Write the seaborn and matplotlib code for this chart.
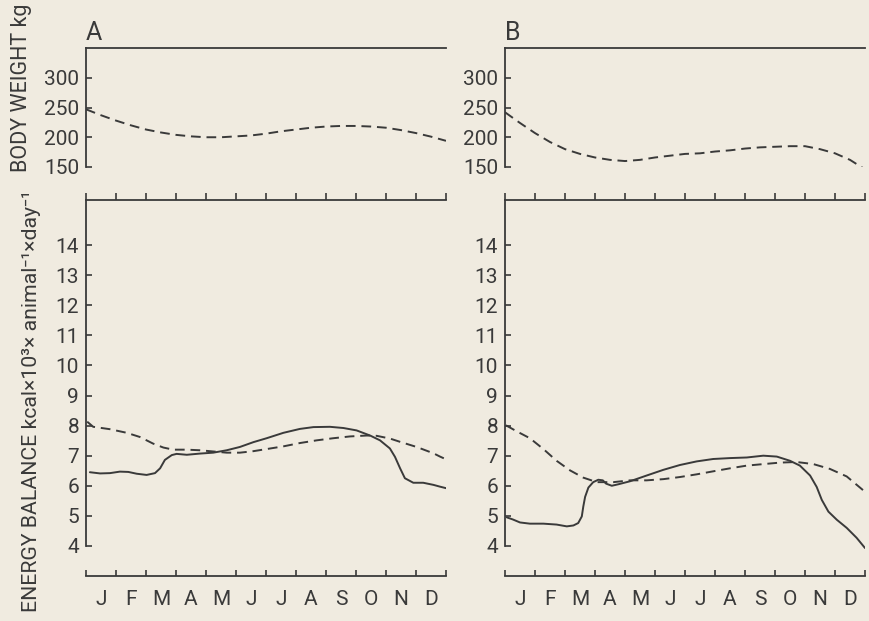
import matplotlib
matplotlib.use('Agg')
import matplotlib.pyplot as plt
import seaborn as sns
from matplotlib.ticker import FixedLocator, FixedFormatter, NullFormatter

# Month letters along the bottom axis
months = ['J', 'F', 'M', 'A', 'M', 'J', 'J', 'A', 'S', 'O', 'N', 'D']

# Body weight (kg), dashed curves, x in months from 1 January
bw_month = [0, 0.5, 1, 1.5, 2, 2.5, 3, 3.5, 4, 4.5, 5, 5.5, 6, 6.5, 7, 7.5,
            8, 8.5, 9, 9.5, 10, 10.5, 11, 11.5, 12]
bw_a = [247, 237, 228, 220, 213, 208, 204, 201.5, 200, 200, 201.5, 203, 206,
        210, 213, 216, 218, 219, 219, 218, 216, 212, 207, 201, 194]
bw_b = [242, 224, 207, 192, 180, 172, 166, 162, 160, 162, 166, 169, 172,
        173, 176, 178, 181, 183, 184, 185, 185, 180, 173, 162, 146]

# Energy balance, panel A
ea_solid_m = [0.13, 0.47, 0.8, 1.13, 1.41, 1.69, 2.02, 2.3, 2.47, 2.63, 2.86,
              3.02, 3.36, 3.8, 4.24, 4.69, 5.13, 5.58, 6.02, 6.58, 7.13, 7.58,
              8.13, 8.58, 9.02, 9.47, 9.8, 10.13, 10.3, 10.47, 10.63, 10.91,
              11.24, 11.58, 11.8, 12.0]
ea_solid = [6.45, 6.41, 6.42, 6.47, 6.46, 6.4, 6.36, 6.42, 6.58, 6.86, 7.02,
            7.06, 7.03, 7.07, 7.1, 7.18, 7.29, 7.45, 7.58, 7.76, 7.89, 7.95,
            7.96, 7.92, 7.84, 7.67, 7.51, 7.24, 6.96, 6.58, 6.25, 6.1,
            6.1, 6.03, 5.97, 5.92]
ea_dash_m = [0.04, 0.24, 0.8, 1.36, 1.8, 2.24, 2.58, 2.91, 3.36, 3.8, 4.24,
             4.69, 5.13, 5.58, 6.02, 6.58, 7.13, 7.69, 8.24, 8.8, 9.36, 9.69,
             10.13, 10.47, 11.02, 11.58, 11.8, 12.0]
ea_dash = [8.13, 7.96, 7.88, 7.76, 7.62, 7.4, 7.27, 7.2, 7.2, 7.18, 7.14,
           7.1, 7.1, 7.15, 7.22, 7.31, 7.42, 7.51, 7.58, 7.64, 7.67, 7.66,
           7.57, 7.46, 7.29, 7.08, 6.97, 6.88]

# Energy balance, panel B
eb_solid_m = [0.06, 0.26, 0.5, 0.83, 1.28, 1.72, 2.06, 2.28, 2.44, 2.56, 2.61,
              2.67, 2.78, 2.94, 3.11, 3.26, 3.37, 3.56, 3.78, 4.17, 4.72, 5.28,
              5.83, 6.39, 6.94, 7.5, 8.06, 8.61, 9.06, 9.5, 9.83, 10.17, 10.39,
              10.56, 10.78, 11.06, 11.39, 11.72, 12.0]
eb_solid = [4.95, 4.88, 4.78, 4.74, 4.74, 4.71, 4.65, 4.68, 4.76, 4.98, 5.31,
            5.63, 5.94, 6.12, 6.2, 6.18, 6.07, 6.0, 6.05, 6.15, 6.34, 6.53,
            6.69, 6.81, 6.89, 6.92, 6.94, 7.0, 6.97, 6.83, 6.67, 6.34, 5.96,
            5.53, 5.14, 4.87, 4.6, 4.27, 3.93]
eb_dash_m = [0.03, 0.39, 0.83, 1.28, 1.72, 2.17, 2.61, 3.06, 3.61, 4.17, 4.72,
             5.28, 5.83, 6.39, 6.94, 7.5, 8.06, 8.61, 9.17, 9.72, 10.28, 10.83,
             11.39, 12.0]
eb_dash = [8.01, 7.81, 7.58, 7.22, 6.83, 6.51, 6.27, 6.12, 6.12, 6.18, 6.18,
           6.22, 6.29, 6.38, 6.48, 6.58, 6.67, 6.72, 6.77, 6.79, 6.72, 6.56,
           6.31, 5.8]

paper = '#f0ebe0'
ink = '#3a3a3a'
dashed = (0, (5, 3))

sns.set_theme(style='white')
plt.rcParams['font.family'] = ['Roboto', 'DejaVu Sans']
plt.rcParams['text.color'] = ink
plt.rcParams['xtick.color'] = ink
plt.rcParams['ytick.color'] = ink
plt.rcParams['axes.edgecolor'] = ink

W, H = 869, 621
fig = plt.figure(figsize=(W / 100, H / 100), dpi=100, facecolor=paper)


def px_axes(x0, top, w, h):
    ax = fig.add_axes([x0 / W, 1 - (top + h) / H, w / W, h / H])
    ax.set_facecolor('none')
    return ax


def style_weight(ax):
    ax.set_xlim(0, 12)
    ax.set_ylim(150, 350)
    for side in ['right', 'bottom']:
        ax.spines[side].set_visible(False)
    ax.spines['left'].set_bounds(150, 350)
    for side in ['left', 'top']:
        ax.spines[side].set_linewidth(1.3)
        ax.spines[side].set_color(ink)
    ax.set_xticks([])
    ax.set_yticks([150, 200, 250, 300])
    ax.tick_params(axis='y', direction='in', length=4, width=1.2,
                   labelsize=15, pad=5, left=True)
    ax.set_xlabel('')
    ax.set_ylabel('')


def style_energy(ax):
    ax.set_xlim(0, 12)
    ax.set_ylim(3.0, 15.5)
    ax.spines['right'].set_visible(False)
    ax.spines['top'].set_visible(False)
    ax.spines['left'].set_bounds(4, 15.5)
    for side in ['left', 'bottom']:
        ax.spines[side].set_linewidth(1.3)
        ax.spines[side].set_color(ink)
    ax.set_yticks(range(4, 15))
    ax.tick_params(axis='y', direction='in', length=4, width=1.2,
                   labelsize=15, pad=5, left=True)
    ax.set_xticks(range(13))
    ax.xaxis.set_major_formatter(NullFormatter())
    ax.xaxis.set_minor_locator(FixedLocator([m + 0.5 for m in range(12)]))
    ax.xaxis.set_minor_formatter(FixedFormatter(months))
    ax.tick_params(axis='x', which='major', direction='in', length=4,
                   width=1.2, bottom=True)
    ax.tick_params(axis='x', which='minor', length=0, labelsize=15, pad=10,
                   bottom=True)
    top = ax.secondary_xaxis('top')
    top.set_xticks(range(13))
    top.xaxis.set_major_formatter(NullFormatter())
    top.tick_params(direction='out', length=5, width=1.2, colors=ink)
    top.spines['top'].set_linewidth(1.3)
    top.spines['top'].set_color(ink)
    ax.set_xlabel('')
    ax.set_ylabel('')


panels = [
    ('A', 86, bw_a, ea_solid_m, ea_solid, ea_dash_m, ea_dash),
    ('B', 505, bw_b, eb_solid_m, eb_solid, eb_dash_m, eb_dash),
]

for letter, x0, bw, s_m, s_v, d_m, d_v in panels:
    ax_w = px_axes(x0, 48, 360, 119)
    sns.lineplot(x=bw_month, y=bw, ax=ax_w, color=ink, linewidth=1.4,
                 linestyle=dashed)
    style_weight(ax_w)
    ax_w.text(0, 1.065, letter, transform=ax_w.transAxes, fontsize=18,
              ha='left', va='baseline', color=ink)

    ax_e = px_axes(x0, 200, 360, 376)
    sns.lineplot(x=s_m, y=s_v, ax=ax_e, color=ink, linewidth=1.4)
    sns.lineplot(x=d_m, y=d_v, ax=ax_e, color=ink, linewidth=1.4,
                 linestyle=dashed)
    style_energy(ax_e)

fig.text(22 / W, 1 - 88 / H, 'BODY WEIGHT kg', rotation=90, fontsize=15.5,
         ha='center', va='center')
fig.text(31 / W, 1 - 190 / H,
         'ENERGY BALANCE kcal×10³× animal⁻¹×day⁻¹',
         rotation=90, fontsize=15.3, ha='center', va='top')

fig.savefig('out.png', dpi=100, facecolor=paper)
